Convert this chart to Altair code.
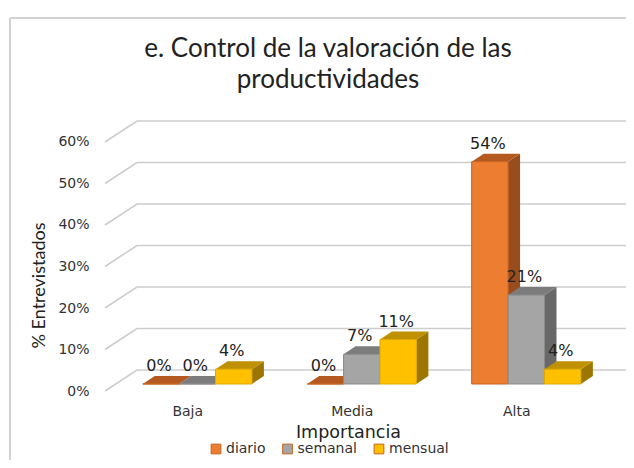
import altair as alt
import pandas as pd

categories = ["Baja", "Media", "Alta"]
series = ["diario", "semanal", "mensual"]
diario = [0.0, 0.0, 0.5357]
semanal = [0.0, 0.0714, 0.2143]
mensual = [0.0357, 0.1071, 0.0357]
ticks = [0.0, 0.1, 0.2, 0.3, 0.4, 0.5, 0.6]
front_colors = ["#ED7D31", "#A5A5A5", "#FFC000"]
edge_colors = ["#C8641E", "#8A8A8A", "#E0A800"]
top_colors = ["#B4591F", "#7C7C7C", "#BF9000"]
side_colors = ["#9A4D1C", "#686868", "#9C7600"]
values = [diario, semanal, mensual]

# geometry of the pseudo 3D chart, in data units
XMAX = 3.1672
WALL_DX, WALL_DY = 0.1945, 0.0506
BAR_DX, BAR_DY = 0.073, 0.0193
BAR_W, BAR_START, FLOOR = 0.2213, 0.229, 0.0169
GRID = "#CDCDCD"

axis_y = alt.Axis(values=ticks, format=".0%", domain=False, ticks=False, grid=False,
                  labelFont="DejaVu Sans", labelFontSize=14, labelColor="#333333", labelPadding=16,
                  title="% Entrevistados", titleFont="Lato", titleFontSize=18, titleFontWeight="normal",
                  titleColor="#222222", titleX=-57, titleY=170)
label_expr = "[" + ",".join(f"'{c}'" for c in categories) + "][floor(datum.value)]"
axis_x = alt.Axis(values=[0.5, 1.5, 2.5], labelExpr=label_expr, domain=False, ticks=False, grid=False,
                  labelFont="DejaVu Sans", labelFontSize=14, labelColor="#333333", labelPadding=9,
                  labelAngle=0, title="Importancia", titleFont="DejaVu Sans", titleFontSize=17.5,
                  titleFontWeight="normal", titleColor="#222222", titleX=243, titleY=28)

x_scale = alt.Scale(domain=[0, XMAX], nice=False, zero=False)
y_scale = alt.Scale(domain=[-0.0096, 0.665], nice=False, zero=False)
X = lambda f="x": alt.X(f"{f}:Q", scale=x_scale, axis=axis_x)
Y = lambda f="y": alt.Y(f"{f}:Q", scale=y_scale, axis=axis_y)

grid_rows = []
for t in ticks:
    grid_rows += [
        dict(t=t, x=0, y=t),
        dict(t=t, x=WALL_DX, y=t + WALL_DY),
        dict(t=t, x=XMAX, y=t + WALL_DY),
    ]

layers = [
    alt.Chart(pd.DataFrame({"a": [0]})).mark_rule(color="#D2D2D2", strokeWidth=2).encode(
        x=alt.value(-95), x2=alt.value(530), y=alt.value(-97)),
    alt.Chart(pd.DataFrame({"a": [0]})).mark_rule(color="#D2D2D2", strokeWidth=2).encode(
        x=alt.value(-95), y=alt.value(-97), y2=alt.value(350)),
    alt.Chart(pd.DataFrame(grid_rows)).mark_line(color=GRID, strokeWidth=1.6).encode(
        x=X(), y=Y(), detail="t:N"),
]

label_rows = []
for s, name in enumerate(series):
    side, top, front = [], [], []
    for c, v in enumerate(values[s]):
        x0 = c + BAR_START + s * BAR_W
        x1 = x0 + BAR_W
        h = FLOOR + v
        side += [dict(b=c, x=x1, y=FLOOR, y2=h), dict(b=c, x=x1 + BAR_DX, y=FLOOR + BAR_DY, y2=h + BAR_DY)]
        top += [dict(b=c, x=x0, y=h, y2=h), dict(b=c, x=x0 + BAR_DX, y=h, y2=h + BAR_DY),
                dict(b=c, x=x1, y=h, y2=h + BAR_DY), dict(b=c, x=x1 + BAR_DX, y=h + BAR_DY, y2=h + BAR_DY)]
        front.append(dict(serie=name, x=x0, x2=x1, y=FLOOR, y2=h))
        label_rows.append(dict(x=(x0 + x1) / 2 - 0.012, y=h, v=v))
    for rows, col in ((side, side_colors[s]), (top, top_colors[s])):
        layers.append(alt.Chart(pd.DataFrame(rows)).mark_area(color=col, line=False, opacity=1).encode(
            x=X(), y=Y(), y2="y2:Q", detail="b:N"))
    layers.append(alt.Chart(pd.DataFrame(front)).mark_rect(stroke=edge_colors[s], strokeWidth=1).encode(
        x=X(), x2="x2:Q", y=Y(), y2="y2:Q",
        color=alt.Color("serie:N", scale=alt.Scale(domain=series, range=front_colors), sort=series,
                        legend=alt.Legend(orient="none", legendX=104, legendY=327, direction="horizontal",
                                          columns=3, title=None, symbolType="square", symbolSize=95,
                                          symbolStrokeWidth=1, labelFont="DejaVu Sans", labelFontSize=14,
                                          labelColor="#333333", columnPadding=14.5, labelOffset=3))))

layers.append(alt.Chart(pd.DataFrame(label_rows)).mark_text(
    font="DejaVu Sans", fontSize=16, color="#222222", baseline="middle", dy=-18).encode(
    x=X(), y=Y(), text=alt.Text("v:Q", format=".0%")))

chart = alt.layer(*layers).resolve_scale(color="shared").properties(
    width=521, height=280,
    padding={"left": 97, "top": 107, "right": 0, "bottom": 65},
    autosize=alt.AutoSizeParams(type="none"),
    title=alt.TitleParams(
        text=["e. Control de la valoración de las", "productividades"],
        font="Lato", fontSize=26, fontWeight="normal", color="#222222",
        anchor="middle", frame="group", dx=-37.5, offset=-76, lineHeight=31),
    background="white",
).configure_view(stroke=None)

chart.save("out.html", embed_options={"renderer": "svg", "actions": False})
